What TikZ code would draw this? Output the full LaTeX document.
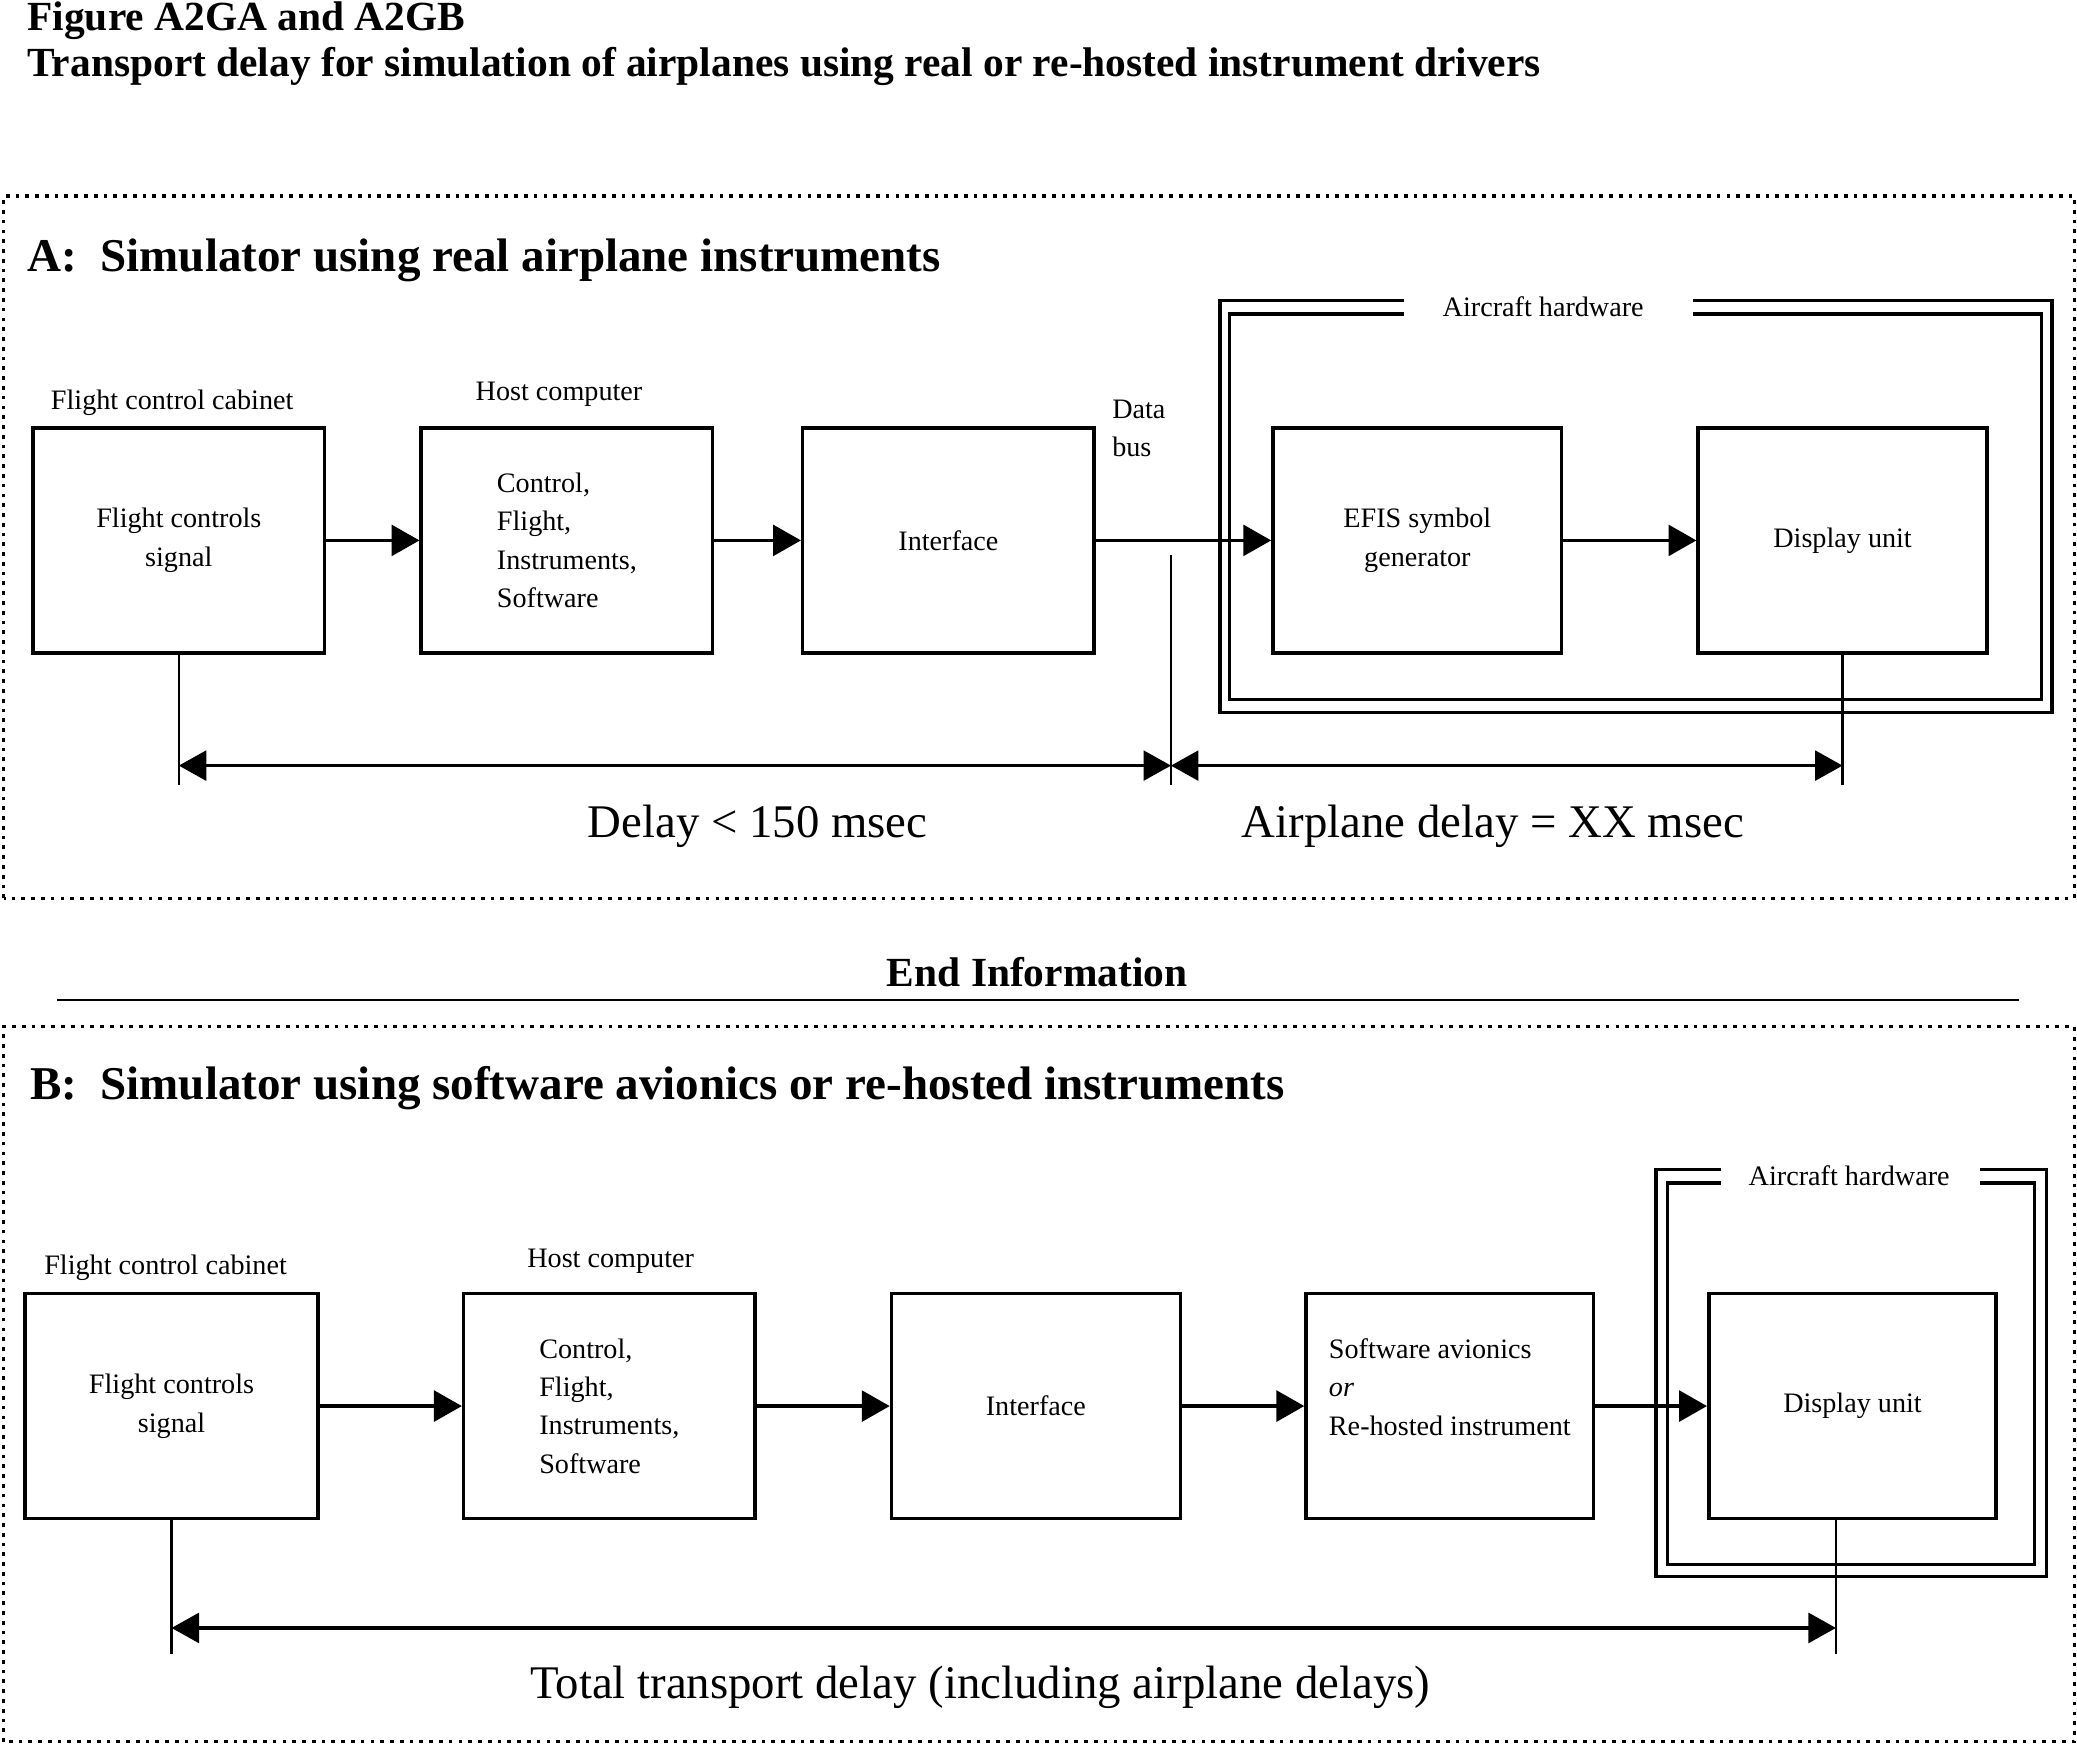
\documentclass[tikz,border=0pt]{standalone}
\usepackage{fontspec}
\setmainfont{Liberation Serif}
\usetikzlibrary{arrows.meta,positioning}

\newcommand{\boxfont}{\fontsize{6.05}{8.25}\selectfont}
\newcommand{\bigfont}{\fontsize{10.05}{12}\selectfont}
\newcommand{\headfont}{\fontsize{10.1}{12}\selectfont\bfseries}
\newcommand{\titlefont}{\fontsize{8.9}{10.5}\selectfont\bfseries}

\tikzset{
  blk/.style={draw,line width=0.75pt,minimum width=2.2cm,minimum height=1.7cm,inner sep=0pt,align=center,font=\boxfont},
  lbl/.style={anchor=base,font=\boxfont,inner sep=0pt},
  arr/.style={-{Triangle[length=6pt,width=6.6pt]},line width=0.8pt},
  dimarr/.style={{Triangle[length=5.9pt,width=6.4pt]}-{Triangle[length=5.9pt,width=6.4pt]},line width=0.7pt},
  vtick/.style={line width=0.55pt},
  hwframe/.style={line width=0.75pt},
  secframe/.style={line width=0.65pt,dash pattern=on 0.8pt off 1.3pt},
}

\begin{document}
\begin{tikzpicture}
\useasboundingbox (0,0) rectangle (15.68,13.17);

% titles
\node[anchor=base west,inner sep=0pt,font=\titlefont] (fig) at (0.20,12.94) {Figure A2GA and A2GB};
\node[anchor=base west,inner sep=0pt,font=\titlefont] (figsub) at (0.20,12.59) {Transport delay for simulation of airplanes using real or re-hosted instrument drivers};

% part A
\draw[secframe] (0.03,6.39) rectangle (15.66,11.69);
\node[anchor=base west,inner sep=0pt,font=\headfont] (headA) at (0.20,11.12) {A:\ \ Simulator using real airplane instruments};

\draw[hwframe] (10.60,10.90) -| (9.21,7.79) -| (15.49,10.90) -- (12.78,10.90);
\draw[hwframe] (10.60,10.80) -| (9.28,7.89) -| (15.41,10.80) -- (12.78,10.80);
\node[lbl] (hwA) at (11.65,10.78) {Aircraft hardware};

\node[blk] (fcA) at (1.35,9.09) {Flight controls\\signal};
\node[blk,align=left] (hostA) [right of = fcA, node distance=2.93cm] {Control,\\Flight,\\Instruments,\\Software};
\node[blk] (ifA) [right of = hostA, node distance=2.88cm] {Interface};
\node[blk,minimum width=2.18cm] (efisA) [right of = ifA, node distance=3.54cm] {EFIS symbol\\generator};
\node[blk,minimum width=2.18cm] (duA) [right of = efisA, node distance=3.21cm] {Display unit};

\node[lbl] (fccA) at (1.30,10.08) {Flight control cabinet};
\node[lbl] (hcA) at (4.22,10.15) {Host computer};
\node[anchor=north west,font=\boxfont,inner sep=0pt,align=left] (busA) at (8.39,10.16) {Data\\bus};

\path (fcA) edge [arr] (hostA);
\path (hostA) edge [arr] (ifA);
\path (ifA) edge [arr] (efisA);
\path (efisA) edge [arr] (duA);

% delays A
\coordinate (tapA) at (8.84,8.98);
\coordinate (lowA) at (0,7.24);
\coordinate (dimA) at (0,7.39);
\draw[vtick] (fcA.south) -- (fcA.south |- lowA);
\draw[vtick] (tapA) -- (tapA |- lowA);
\draw[vtick] (duA.south) -- (duA.south |- lowA);
\draw[dimarr] (fcA.south |- dimA) -- (tapA |- dimA);
\draw[dimarr] (tapA |- dimA) -- (duA.south |- dimA);
\node[anchor=base,font=\bigfont,inner sep=0pt] (dlyA) at (5.72,6.85) {Delay < 150 msec};
\node[anchor=base,font=\bigfont,inner sep=0pt] (apdA) at (11.27,6.85) {Airplane delay = XX msec};

% end information
\node[anchor=base,font=\titlefont,inner sep=0pt] (endinfo) at (7.83,5.72) {End Information};
\draw[line width=0.45pt] (0.43,5.62) -- (15.24,5.62);

% part B
\draw[secframe] (0.03,0.02) rectangle (15.66,5.42);
\node[anchor=base west,inner sep=0pt,font=\headfont] (headB) at (0.22,4.87) {B:\ \ Simulator using software avionics or re-hosted instruments};

\draw[hwframe] (12.99,4.34) -| (12.50,1.27) -| (15.45,4.34) -- (14.95,4.34);
\draw[hwframe] (12.99,4.24) -| (12.59,1.36) -| (15.36,4.24) -- (14.95,4.24);
\node[lbl] (hwB) at (13.96,4.22) {Aircraft hardware};

\node[blk,minimum width=2.21cm] (fcB) at (1.295,2.555) {Flight controls\\signal};
\node[blk,align=left] (hostB) [right of = fcB, node distance=3.305cm] {Control,\\Flight,\\Instruments,\\Software};
\node[blk,minimum width=2.18cm] (ifB) [right of = hostB, node distance=3.22cm] {Interface};
\node[blk,minimum width=2.17cm,align=left] (swB) [right of = ifB, node distance=3.125cm] {Software avionics\\\textit{or}\\Re-hosted instrument\\\mbox{}};
\node[blk,minimum width=2.17cm] (duB) [right of = swB, node distance=3.04cm] {Display unit};

\node[lbl] (fccB) at (1.25,3.55) {Flight control cabinet};
\node[lbl] (hcB) at (4.61,3.60) {Host computer};

\path (fcB) edge [arr] (hostB);
\path (hostB) edge [arr] (ifB);
\path (ifB) edge [arr] (swB);
\path (swB) edge [arr] (duB);

% delay B
\coordinate (tapB) at (13.86,1.70);
\coordinate (lowB) at (0,0.68);
\coordinate (dimB) at (0,0.88);
\draw[vtick] (fcB.south) -- (fcB.south |- lowB);
\draw[vtick] (tapB) -- (tapB |- lowB);
\draw[dimarr] (fcB.south |- dimB) -- (tapB |- dimB);
\node[anchor=base,font=\bigfont,inner sep=0pt] (totB) at (7.40,0.35) {Total transport delay (including airplane delays)};
\end{tikzpicture}
\end{document}
